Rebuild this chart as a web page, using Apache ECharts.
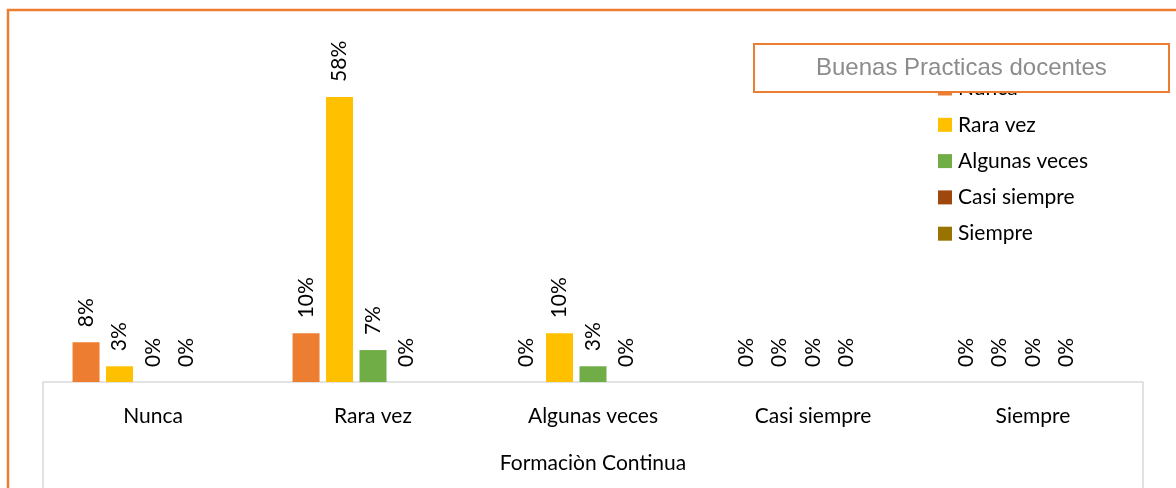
<!DOCTYPE html>
<html>
<head>
<meta charset="utf-8">
<script src="https://cdn.jsdelivr.net/npm/echarts@6/dist/echarts.min.js"></script>
<style>html,body{margin:0;padding:0;background:#fff}#c{width:1176px;height:488px}</style>
</head>
<body>
<div id="c"></div>
<script>
const categories = ['Nunca', 'Rara vez', 'Algunas veces', 'Casi siempre', 'Siempre'];
const seriesNames = ['Nunca', 'Rara vez', 'Algunas veces', 'Casi siempre', 'Siempre'];
const nunca = [8.1, 9.9, 0, 0, 0];
const raraVez = [3.2, 58, 9.9, 0, 0];
const algunasVeces = [0, 6.5, 3.2, 0, 0];
const casiSiempre = [0, 0, 0, 0, 0];
const siempre = [null, null, null, null, null];
const colors = ['#ED7D31', '#FFC000', '#70AD47', '#9E480E', '#997300'];
const titleText = 'Buenas Practicas docentes';
const axisName = 'Formaciòn Continua';

const FONT = 'Lato';
const seriesData = [nunca, raraVez, algunasVeces, casiSiempre, siempre];

const chart = echarts.init(document.getElementById('c'));
chart.setOption({
  animation: false,
  title: {
    text: titleText,
    left: 754, top: 44,
    padding: [12, 62, 12, 62],
    borderColor: '#ED7D31', borderWidth: 2,
    backgroundColor: '#fff',
    textStyle: { fontFamily: 'Liberation Sans', fontSize: 24, fontWeight: 'normal', color: '#8c8c8c', lineHeight: 24 },
    z: 10
  },
  legend: {
    orient: 'vertical',
    left: 938, top: 78,
    padding: 0,
    itemWidth: 14, itemHeight: 14, itemGap: 15.3,
    icon: 'rect',
    data: seriesNames,
    textStyle: { fontFamily: FONT, fontSize: 21, color: '#000', lineHeight: 20, padding: [0, 0, 0, 1] }
  },
  grid: { left: 43, right: 33, top: 38, bottom: 106, containLabel: false },
  xAxis: {
    type: 'category',
    data: categories,
    name: axisName,
    nameLocation: 'middle',
    nameGap: 71,
    nameTextStyle: { fontFamily: FONT, fontSize: 21, color: '#000' },
    axisLine: { lineStyle: { color: '#d9d9d9', width: 1.5 } },
    axisTick: { show: false },
    axisLabel: { fontFamily: FONT, fontSize: 21, color: '#000', margin: 24 }
  },
  yAxis: { type: 'value', min: 0, max: 70, show: false, splitLine: { show: false } },
  graphic: [
    { type: 'rect', shape: { x: 8, y: 10, width: 1300, height: 600 }, style: { fill: null, stroke: '#ED7D31', lineWidth: 2.5 }, silent: true },
    { type: 'line', shape: { x1: 43, y1: 382, x2: 43, y2: 490 }, style: { stroke: '#d9d9d9', lineWidth: 1.5 } },
    { type: 'line', shape: { x1: 1143, y1: 382, x2: 1143, y2: 490 }, style: { stroke: '#d9d9d9', lineWidth: 1.5 } }
  ],
  series: seriesNames.map((n, i) => ({
    name: n,
    type: 'bar',
    data: seriesData[i],
    barWidth: 27,
    barGap: '24%',
    itemStyle: { color: colors[i] },
    label: {
      show: true,
      position: 'top',
      rotate: 90,
      align: 'left',
      verticalAlign: 'middle',
      distance: 15,
      fontFamily: FONT,
      fontSize: 21,
      color: '#000',
      formatter: p => (p.value == null ? '' : Math.round(p.value) + '%')
    }
  }))
});
</script>
</body>
</html>
